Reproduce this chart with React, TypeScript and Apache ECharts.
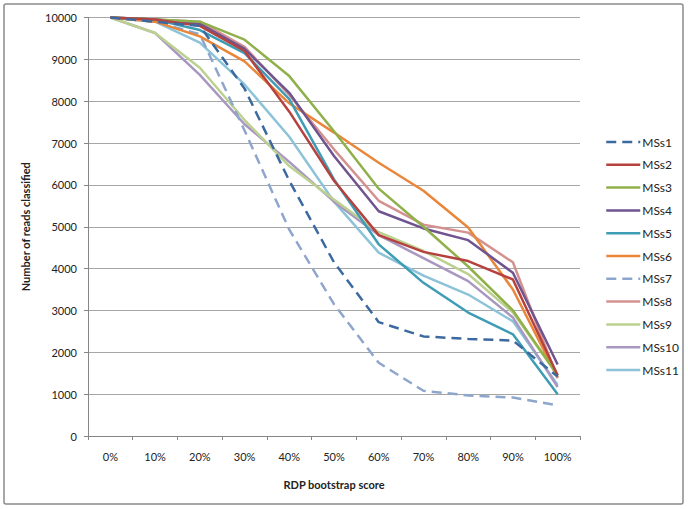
import React, { useEffect, useRef } from "react";
import * as echarts from "echarts";

const categories = ["0%", "10%", "20%", "30%", "40%", "50%", "60%", "70%", "80%", "90%", "100%"];

const seriesNames = ["MSs1", "MSs2", "MSs3", "MSs4", "MSs5", "MSs6", "MSs7", "MSs8", "MSs9", "MSs10", "MSs11"];

const MSs1 = [10000, 9900, 9800, 8300, 6100, 4150, 2720, 2380, 2320, 2280, 1420];
const MSs2 = [10000, 9950, 9800, 9200, 7750, 6100, 4800, 4400, 4180, 3740, 1450];
const MSs3 = [10000, 9950, 9900, 9470, 8600, 7280, 5910, 5000, 4050, 3000, 1450];
const MSs4 = [10000, 9950, 9850, 9250, 8200, 6690, 5370, 4960, 4680, 3900, 1710];
const MSs5 = [10000, 9950, 9700, 9150, 8050, 6130, 4580, 3660, 2950, 2430, 1000];
const MSs6 = [10000, 9900, 9550, 8950, 7950, 7250, 6530, 5860, 4980, 3500, 1400];
const MSs7 = [10000, 9900, 9600, 7300, 4930, 3150, 1750, 1080, 970, 920, 730];
const MSs8 = [10000, 9950, 9900, 9300, 8150, 6850, 5620, 5050, 4860, 4150, 1380];
const MSs9 = [10000, 9630, 8800, 7550, 6450, 5650, 4870, 4420, 3870, 2950, 1450];
const MSs10 = [10000, 9630, 8630, 7450, 6550, 5600, 4800, 4250, 3700, 2830, 1170];
const MSs11 = [10000, 9900, 9400, 8400, 7150, 5600, 4380, 3830, 3380, 2740, 1220];

const seriesData = [MSs1, MSs2, MSs3, MSs4, MSs5, MSs6, MSs7, MSs8, MSs9, MSs10, MSs11];
const colors = ["#3C69A0", "#B5423F", "#8FB04A", "#6F5490", "#3E9DB4", "#E9863A", "#8FA6CC", "#D39290", "#BCD18F", "#A897C0", "#8CC3D8"];
const dashed = [true, false, false, false, false, false, true, false, false, false, false];

const FONT = "Lato, 'Open Sans', sans-serif";

export default function App() {
  const ref = useRef<HTMLDivElement>(null);
  useEffect(() => {
    if (!ref.current) return;
    const chart = echarts.init(ref.current, undefined, { renderer: "svg" });
    chart.setOption({
      animation: false,
      backgroundColor: "#ffffff",
      textStyle: { fontFamily: FONT },
      graphic: [
        {
          type: "rect",
          shape: { x: 4, y: 4, width: 679, height: 500, r: 2 },
          style: { fill: "none", stroke: "#8A8A8A", lineWidth: 1.5 },
          silent: true,
        },
      ],
      legend: {
        orient: "vertical",
        left: 600,
        top: 131,
        itemWidth: 34,
        itemHeight: 14,
        itemGap: 10.8,
        itemStyle: { opacity: 0 },
        lineStyle: { opacity: 1, width: 2.5 },
        textStyle: { fontSize: 12, color: "#222", fontFamily: FONT, padding: [0, 0, 0, -3] },
        data: seriesNames,
      },
      grid: { left: 88, right: 108, top: 17.5, bottom: 73 },
      xAxis: {
        type: "category",
        data: categories,
        boundaryGap: true,
        name: "RDP bootstrap score",
        nameLocation: "middle",
        nameGap: 43,
        nameTextStyle: { fontSize: 11, fontWeight: "bold", color: "#222", fontFamily: FONT },
        axisLine: { lineStyle: { color: "#868686", width: 1 } },
        axisTick: { show: true, length: 4, lineStyle: { color: "#868686" } },
        axisLabel: { fontSize: 11, color: "#222", margin: 15, fontFamily: FONT },
      },
      yAxis: {
        type: "value",
        min: 0,
        max: 10000,
        interval: 1000,
        name: "Number of reads classified",
        nameLocation: "middle",
        nameGap: 57,
        nameTextStyle: { fontSize: 11, fontWeight: "bold", color: "#222", fontFamily: FONT },
        axisLine: { show: true, lineStyle: { color: "#868686", width: 1 } },
        axisTick: { show: true, length: 4, lineStyle: { color: "#868686" } },
        axisLabel: { fontSize: 11, color: "#222", margin: 11, fontFamily: FONT, formatter: (v: number) => String(v) },
        splitLine: { lineStyle: { color: "#A6A6A6", width: 1 } },
      },
      series: seriesNames.map((name, i) => ({
        name,
        type: "line",
        data: seriesData[i],
        symbol: "none",
        color: colors[i],
        lineStyle: { width: 2.5, color: colors[i], type: dashed[i] ? [10, 6] : "solid" },
        z: 2 + (10 - i),
      })),
    });
    return () => chart.dispose();
  }, []);
  return <div ref={ref} style={{ position: "absolute", left: 0, top: 0, width: 688, height: 509 }} />;
}
